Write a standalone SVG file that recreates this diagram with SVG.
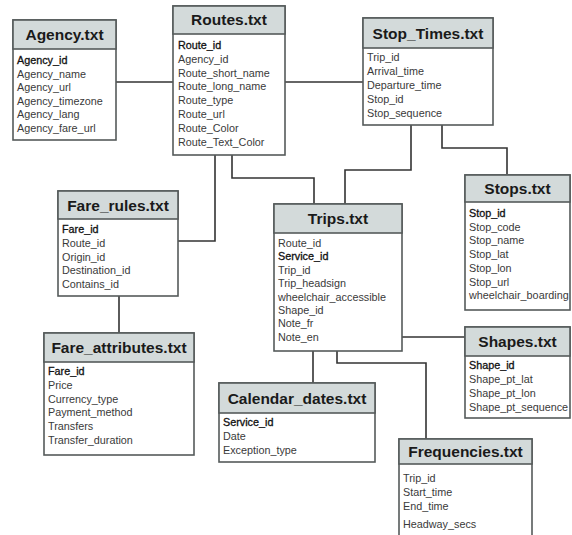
<svg xmlns="http://www.w3.org/2000/svg" width="572" height="535" viewBox="0 0 572 535">
  <style>
    .box { fill: #ffffff; stroke: #555b5b; stroke-width: 1.6; }
    .head { fill: #d3dada; stroke: #555b5b; stroke-width: 1.6; }
    .title { font-family: "Liberation Sans", Arial, sans-serif; font-weight: bold; font-size: 15.5px; fill: #1a1a1a; text-anchor: middle; }
    .f { font-family: "Liberation Sans", Arial, sans-serif; font-size: 10.8px; fill: #3a3a3a; }
    .pk { fill: #111111; stroke: #111111; stroke-width: 0.3; }
    .wire { fill: none; stroke: #333333; stroke-width: 1.6; }
  </style>
  <rect width="572" height="535" fill="#ffffff"/>

  <!-- connectors between tables -->
  <g id="connectors">
    <path class="wire" d="M116,82 H173"/>
    <path class="wire" d="M285,82 H363"/>
    <path class="wire" d="M215,155 V241 H178"/>
    <path class="wire" d="M232,155 V178 H314 V204"/>
    <path class="wire" d="M411,125 V170 H345 V204"/>
    <path class="wire" d="M442,125 V148 H507 V174"/>
    <path class="wire" d="M119,296 V333"/>
    <path class="wire" d="M402,337 H465"/>
    <path class="wire" d="M313,351 V383"/>
    <path class="wire" d="M337,351 V363 H426 V439"/>
  </g>

  <g id="agency">
    <rect class="box" x="13" y="20" width="103" height="120"/>
    <rect class="head" x="13" y="20" width="103" height="29"/>
    <text class="title" x="64.5" y="40">Agency.txt</text>
    <text class="f pk" x="17" y="64">Agency_id</text>
    <text class="f" x="17" y="77.6">Agency_name</text>
    <text class="f" x="17" y="91.2">Agency_url</text>
    <text class="f" x="17" y="104.8">Agency_timezone</text>
    <text class="f" x="17" y="118.4">Agency_lang</text>
    <text class="f" x="17" y="132">Agency_fare_url</text>
  </g>

  <g id="routes">
    <rect class="box" x="173" y="6" width="112" height="149"/>
    <rect class="head" x="173" y="6" width="112" height="28"/>
    <text class="title" x="229" y="25">Routes.txt</text>
    <text class="f pk" x="178" y="49">Route_id</text>
    <text class="f" x="178" y="62.8">Agency_id</text>
    <text class="f" x="178" y="76.6">Route_short_name</text>
    <text class="f" x="178" y="90.4">Route_long_name</text>
    <text class="f" x="178" y="104.2">Route_type</text>
    <text class="f" x="178" y="118">Route_url</text>
    <text class="f" x="178" y="131.8">Route_Color</text>
    <text class="f" x="178" y="145.6">Route_Text_Color</text>
  </g>

  <g id="stop_times">
    <rect class="box" x="363" y="18" width="130" height="107"/>
    <rect class="head" x="363" y="18" width="130" height="30"/>
    <text class="title" x="428" y="38.5">Stop_Times.txt</text>
    <text class="f" x="367" y="61">Trip_id</text>
    <text class="f" x="367" y="75">Arrival_time</text>
    <text class="f" x="367" y="89">Departure_time</text>
    <text class="f" x="367" y="103">Stop_id</text>
    <text class="f" x="367" y="117">Stop_sequence</text>
  </g>

  <g id="fare_rules">
    <rect class="box" x="58" y="191" width="120" height="105"/>
    <rect class="head" x="58" y="191" width="120" height="28"/>
    <text class="title" x="118" y="210.5">Fare_rules.txt</text>
    <text class="f pk" x="62" y="233">Fare_id</text>
    <text class="f" x="62" y="246.8">Route_id</text>
    <text class="f" x="62" y="260.6">Origin_id</text>
    <text class="f" x="62" y="274.4">Destination_id</text>
    <text class="f" x="62" y="288.2">Contains_id</text>
  </g>

  <g id="trips">
    <rect class="box" x="274" y="204" width="128" height="147"/>
    <rect class="head" x="274" y="204" width="128" height="29"/>
    <text class="title" x="338" y="224">Trips.txt</text>
    <text class="f" x="278" y="247">Route_id</text>
    <text class="f pk" x="278" y="260.4">Service_id</text>
    <text class="f" x="278" y="273.8">Trip_id</text>
    <text class="f" x="278" y="287.2">Trip_headsign</text>
    <text class="f" x="278" y="300.6">wheelchair_accessible</text>
    <text class="f" x="278" y="314">Shape_id</text>
    <text class="f" x="278" y="327.4">Note_fr</text>
    <text class="f" x="278" y="340.8">Note_en</text>
  </g>

  <g id="stops">
    <rect class="box" x="465" y="175" width="105" height="135"/>
    <rect class="head" x="465" y="175" width="105" height="27"/>
    <text class="title" x="517.5" y="193.5">Stops.txt</text>
    <text class="f pk" x="469" y="217">Stop_id</text>
    <text class="f" x="469" y="230.7">Stop_code</text>
    <text class="f" x="469" y="244.4">Stop_name</text>
    <text class="f" x="469" y="258.1">Stop_lat</text>
    <text class="f" x="469" y="271.8">Stop_lon</text>
    <text class="f" x="469" y="285.5">Stop_url</text>
    <text class="f" x="469" y="299.2">wheelchair_boarding</text>
  </g>

  <g id="shapes">
    <rect class="box" x="465" y="327" width="105" height="91"/>
    <rect class="head" x="465" y="327" width="105" height="29"/>
    <text class="title" x="517.5" y="347">Shapes.txt</text>
    <text class="f pk" x="469" y="369">Shape_id</text>
    <text class="f" x="469" y="383">Shape_pt_lat</text>
    <text class="f" x="469" y="397">Shape_pt_lon</text>
    <text class="f" x="469" y="411">Shape_pt_sequence</text>
  </g>

  <g id="fare_attributes">
    <rect class="box" x="44" y="333" width="150" height="122"/>
    <rect class="head" x="44" y="333" width="150" height="29"/>
    <text class="title" x="119" y="353">Fare_attributes.txt</text>
    <text class="f pk" x="48" y="375">Fare_id</text>
    <text class="f" x="48" y="388.8">Price</text>
    <text class="f" x="48" y="402.6">Currency_type</text>
    <text class="f" x="48" y="416.4">Payment_method</text>
    <text class="f" x="48" y="430.2">Transfers</text>
    <text class="f" x="48" y="444">Transfer_duration</text>
  </g>

  <g id="calendar_dates">
    <rect class="box" x="219" y="383" width="156" height="79"/>
    <rect class="head" x="219" y="383" width="156" height="30"/>
    <text class="title" x="297" y="403.5">Calendar_dates.txt</text>
    <text class="f pk" x="223" y="426">Service_id</text>
    <text class="f" x="223" y="440">Date</text>
    <text class="f" x="223" y="454">Exception_type</text>
  </g>

  <g id="frequencies">
    <rect class="box" x="399" y="439" width="133" height="100"/>
    <rect class="head" x="399" y="439" width="133" height="25"/>
    <text class="title" x="465.5" y="457">Frequencies.txt</text>
    <text class="f" x="403" y="482">Trip_id</text>
    <text class="f" x="403" y="496">Start_time</text>
    <text class="f" x="403" y="510">End_time</text>
    <text class="f" x="403" y="528">Headway_secs</text>
  </g>
</svg>
